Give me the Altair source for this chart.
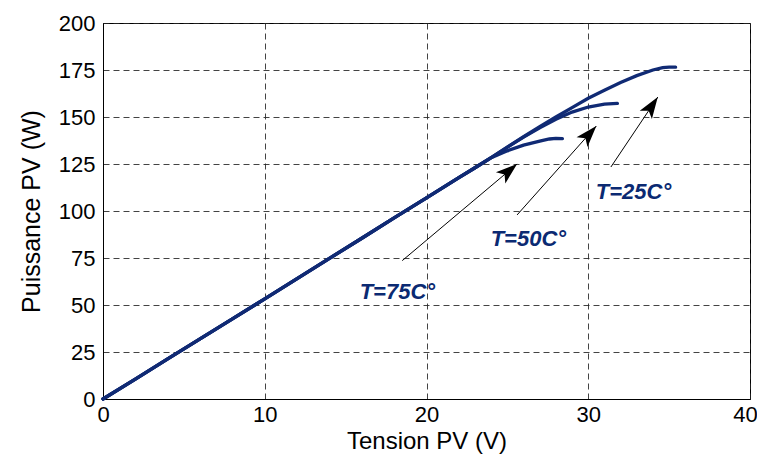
import math
import altair as alt
import pandas as pd

# ---- data ----
v_common = [0, 2, 4, 6, 8, 10, 12, 14, 16, 18, 20, 22, 23, 24]
p_common = [0, 10.6, 21.3, 32.0, 42.6, 53.3, 64.0, 74.8, 85.5, 96.3, 107.0, 117.8, 123.0, 128.4]

v_25 = [25, 26, 27, 28, 29, 30, 31, 32, 33, 34, 34.6, 35.0, 35.4]
p_25 = [134.0, 139.5, 144.8, 150.0, 155.0, 160.0, 164.2, 168.3, 172.0, 175.0, 176.3, 176.5, 176.5]
v_50 = [25, 26, 27, 28, 29, 30, 31, 31.8]
p_50 = [134.0, 139.3, 144.3, 148.8, 152.6, 155.3, 156.8, 157.2]
v_75 = [25, 26, 27, 27.6, 28.0, 28.4]
p_75 = [132.0, 135.0, 137.2, 138.3, 138.6, 138.5]

labels = ["T=75C°", "T=50C°", "T=25C°"]
arrow_v0 = [18.5, 25.6, 31.4]
arrow_p0 = [73.6, 97.9, 123.4]
arrow_v1 = [25.6, 30.5, 34.3]
arrow_p1 = [125.0, 145.2, 160.6]
label_v = [18.2, 26.3, 32.8]
label_p = [56.7, 85.1, 110.3]

x_ticks = [0, 10, 20, 30, 40]
y_ticks = [0, 25, 50, 75, 100, 125, 150, 175, 200]

# ---- layout / style ----
W, H = 647, 376
X_MAX, Y_MAX = 40, 200
CURVE = "#102a74"
TEXT = "#0b2a72"

rows = []
for name, vb, pb in [("75", v_75, p_75), ("50", v_50, p_50), ("25", v_25, p_25)]:
    vs = v_common + vb
    ps = p_common + pb
    for i, (v, p) in enumerate(zip(vs, ps)):
        rows.append({"serie": name, "i": i, "v": v, "p": p})
curves = pd.DataFrame(rows)

px_v = W / X_MAX
px_p = H / Y_MAX
angles = [90 - math.degrees(math.atan2((p1 - p0) * px_p, (v1 - v0) * px_v))
          for v0, p0, v1, p1 in zip(arrow_v0, arrow_p0, arrow_v1, arrow_p1)]
arrows = pd.DataFrame({"v0": arrow_v0, "p0": arrow_p0, "v1": arrow_v1, "p1": arrow_p1,
                       "ang": angles})
texts = pd.DataFrame({"lab": labels, "v": label_v, "p": label_p})

xscale = alt.Scale(domain=[0, X_MAX], nice=False, zero=False)
yscale = alt.Scale(domain=[0, Y_MAX], nice=False, zero=False)

x_axis = alt.Axis(values=x_ticks, title="Tension PV (V)", grid=True, ticks=False,
                  labelFontSize=22, titleFontSize=24, labelPadding=5, titlePadding=4,
                  labelFlush=False, format="d",
                  labelOffset={"condition": {"test": "datum.value == 40", "value": -5},
                               "value": 0})
y_axis = alt.Axis(values=y_ticks, title="Puissance PV (W)", grid=True, ticks=False,
                  labelFontSize=22, titleFontSize=25, labelPadding=8, titlePadding=14,
                  labelFlush=False, format="d")

lines = alt.Chart(curves).mark_line(color=CURVE, strokeWidth=3.3, strokeCap="round").encode(
    x=alt.X("v:Q", scale=xscale, axis=x_axis),
    y=alt.Y("p:Q", scale=yscale, axis=y_axis),
    detail="serie:N",
    order="i:Q",
)

rules = alt.Chart(arrows).mark_rule(color="black", strokeWidth=1).encode(
    x=alt.X("v0:Q", scale=xscale), y=alt.Y("p0:Q", scale=yscale),
    x2="v1:Q", y2="p1:Q",
)

heads = alt.Chart(arrows).mark_point(
    shape="M0,0 L0.34,1 L0,0.76 L-0.34,1 Z", filled=True, color="black",
    opacity=1, size=1850, strokeWidth=0,
).encode(
    x=alt.X("v1:Q", scale=xscale), y=alt.Y("p1:Q", scale=yscale),
    angle=alt.Angle("ang:Q", scale=None),
)

txt = alt.Chart(texts).mark_text(
    font="Liberation Sans", fontSize=22, fontWeight="bold", fontStyle="italic",
    color=TEXT, align="center", baseline="middle",
).encode(
    x=alt.X("v:Q", scale=xscale), y=alt.Y("p:Q", scale=yscale), text="lab:N",
)

chart = alt.layer(lines, rules, heads, txt).properties(
    width=W, height=H,
    autosize=alt.AutoSizeParams(type="none"),
    padding={"left": 95, "top": 15, "right": 7, "bottom": 58},
    background="white",
).configure_view(
    stroke="black", strokeWidth=1,
).configure_axis(
    domainColor="black", domainWidth=1,
    gridColor="#222222", gridDash=[6, 4], gridWidth=1, gridOpacity=0.85,
    labelColor="black", titleColor="black",
    labelFont="Liberation Sans", titleFont="Liberation Sans",
    titleFontWeight="normal",
)

chart.save("out.html", embed_options={"renderer": "svg", "actions": False})
